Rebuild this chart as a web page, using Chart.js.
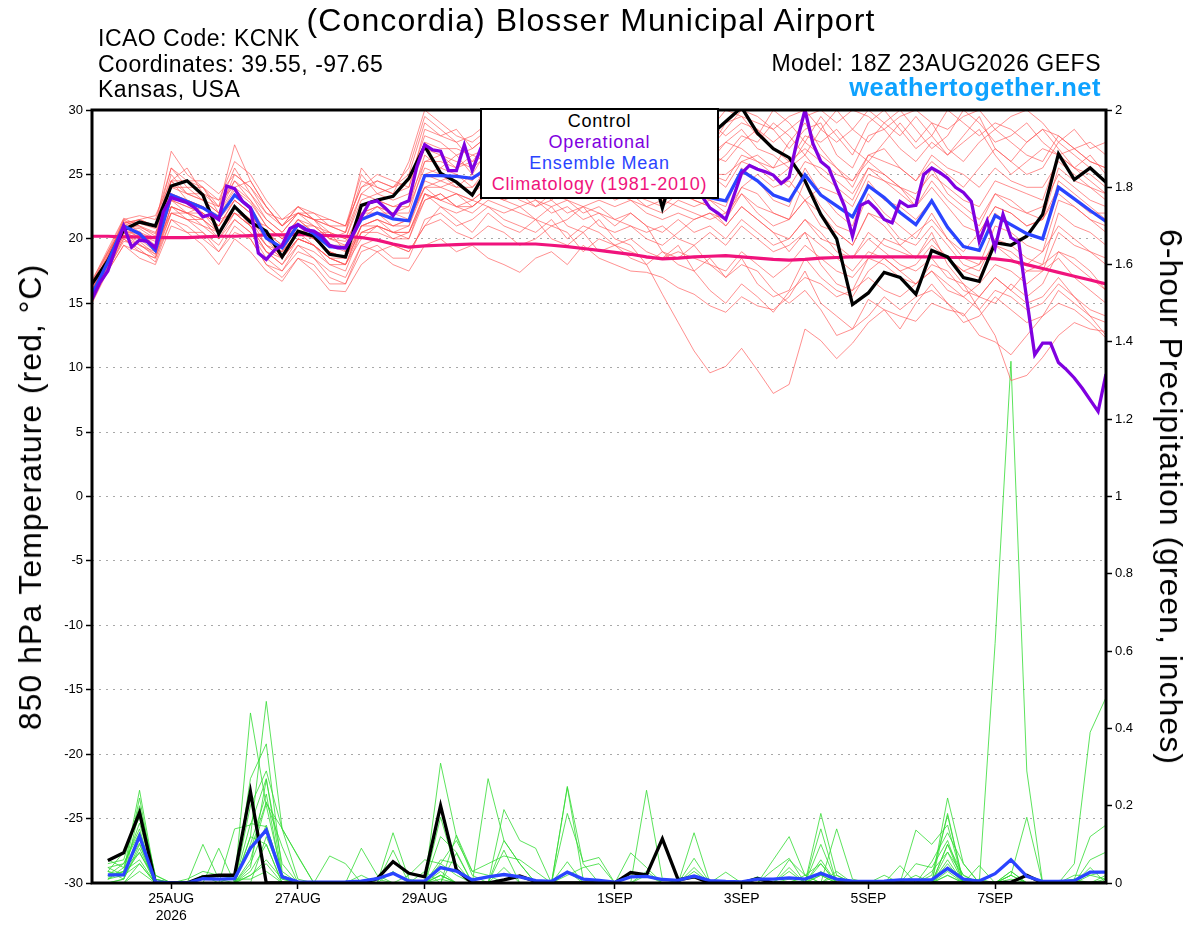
<!DOCTYPE html>
<html>
<head>
<meta charset="utf-8">
<script src="https://cdn.jsdelivr.net/npm/chart.js@4.4.1/dist/chart.umd.min.js"></script>
<style>
html,body{margin:0;padding:0;background:#fff;}
#wrap{position:relative;width:1200px;height:927px;overflow:hidden;font-family:"Liberation Sans",Arial,Helvetica,sans-serif;}
#c{position:absolute;left:0;top:0;}
.t{position:absolute;white-space:nowrap;line-height:1;color:#000;}
#title{left:591px;top:4px;font-size:32px;letter-spacing:1.1px;transform:translateX(-50%);}
#icao{left:98px;top:27px;font-size:23px;letter-spacing:0.5px;}
#coord{left:98px;top:52.5px;font-size:23px;letter-spacing:0.5px;}
#state{left:98px;top:78px;font-size:23px;letter-spacing:0.5px;}
#model{right:99px;top:51.5px;font-size:23px;letter-spacing:0.5px;}
#site{right:99px;top:75px;font-size:25.5px;font-weight:bold;color:#0ea2ff;letter-spacing:0.5px;}
#ylab{left:30px;top:497px;font-size:32px;letter-spacing:1px;transform:translate(-50%,-50%) rotate(-90deg);}
#y2lab{left:1171px;top:497px;font-size:32px;letter-spacing:1px;transform:translate(-50%,-50%) rotate(90deg);}
#legend{position:absolute;left:480px;top:108px;width:239px;height:91px;box-sizing:border-box;border:2px solid #000;background:#fff;text-align:center;font-size:18px;line-height:21.3px;letter-spacing:0.8px;padding-top:0.5px;}
</style>
</head>
<body>
<div id="wrap">
<canvas id="c" width="1200" height="927"></canvas>
<div class="t" id="title">(Concordia) Blosser Municipal Airport</div>
<div class="t" id="icao">ICAO Code: KCNK</div>
<div class="t" id="coord">Coordinates: 39.55, -97.65</div>
<div class="t" id="state">Kansas, USA</div>
<div class="t" id="model">Model: 18Z 23AUG2026 GEFS</div>
<div class="t" id="site">weathertogether.net</div>
<div class="t" id="ylab">850 hPa Temperature (red, °C)</div>
<div class="t" id="y2lab">6-hour Precipitation (green, inches)</div>
<div id="legend">
  <div style="color:#000">Control</div>
  <div style="color:#8000e0">Operational</div>
  <div style="color:#2a44ff">Ensemble Mean</div>
  <div style="color:#f0137c">Climatology (1981-2010)</div>
</div>
</div>
<script>
// ---- tick labels (forecast hour from 18Z 23AUG2026 -> label) ----
const tickHours  = [30, 78, 126, 198, 246, 294, 342];
const tickLabels = [['25AUG','2026'], '27AUG', '29AUG', '1SEP', '3SEP', '5SEP', '7SEP'];

// ---- 850 hPa temperature, 6-hourly (65 values, hour 0..384) ----
const controlTemp = [16.5,18.3,20.7,21.3,21.0,24.1,24.5,23.4,20.4,22.5,
 21.3,20.6,18.6,20.6,20.2,18.8,18.6,22.6,23.0,23.3,
 24.7,27.2,25.1,24.4,23.4,25.5,26.5,27.0,26.0,27.5,
 27.0,26.5,25.5,26.0,25.0,27.0,22.4,26.5,27.0,28.0,
 29.1,30.2,28.2,27.0,26.3,24.5,21.9,20.0,14.9,15.8,
 17.4,17.0,15.7,19.1,18.6,17.0,16.7,19.7,19.5,20.2,
 21.9,26.6,24.6,25.5,24.4];
const meanTemp = [15.7,18.2,21.0,20.4,19.1,23.4,22.9,22.4,21.65,23.4,
 22.4,20.05,19.3,21.1,20.4,19.4,19.3,21.5,22.0,21.55,
 21.4,24.9,24.9,24.85,24.7,25.5,25.3,25.6,25.2,25.4,
 25.0,24.8,25.1,24.6,24.9,24.3,24.0,24.2,23.6,23.2,
 22.95,25.3,24.5,23.4,22.95,24.96,23.4,22.55,21.7,24.1,
 23.2,22.04,21.1,22.95,20.9,19.4,19.1,21.8,21.1,20.4,
 20.0,24.0,23.1,22.2,21.35];
const climTemp = [20.2,20.2,20.15,20.15,20.1,20.1,20.1,20.15,20.2,20.2,
 20.25,20.3,20.3,20.35,20.3,20.25,20.2,20.1,19.9,19.6,
 19.35,19.45,19.5,19.55,19.6,19.6,19.6,19.6,19.6,19.5,
 19.4,19.25,19.1,18.95,18.8,18.6,18.45,18.5,18.6,18.65,
 18.7,18.6,18.5,18.4,18.35,18.4,18.5,18.55,18.6,18.6,
 18.6,18.6,18.6,18.6,18.55,18.55,18.5,18.45,18.3,18.0,
 17.7,17.4,17.1,16.8,16.5];
// ---- operational run, 3-hourly (129 values, hour 0..384) ----
const operationalTemp = [15.3,16.6,17.5,19.3,21.0,19.35,19.9,19.8,19.3,22.1,
 23.2,23.0,22.8,22.4,21.7,21.9,21.5,24.1,23.9,22.9,
 22.4,18.9,18.4,19.1,19.5,20.8,21.1,20.7,20.6,20.2,
 19.5,19.3,19.3,20.4,21.7,22.8,22.95,22.4,21.8,22.7,
 22.95,25.6,27.3,26.9,26.8,25.3,25.3,27.3,25.3,26.9,
 26.0,25.5,26.3,26.8,27.0,26.5,26.0,26.6,27.2,26.9,
 26.4,25.9,26.2,26.6,26.0,25.5,25.8,26.1,25.5,25.0,
 24.6,24.9,25.2,24.8,24.4,24.0,23.8,23.3,22.4,22.0,
 21.5,23.3,25.1,25.7,25.4,25.2,24.95,24.3,24.8,27.6,
 30.0,27.4,26.0,25.5,24.0,22.5,20.2,22.6,22.9,22.3,
 21.5,21.25,22.9,22.5,22.6,25.0,25.5,25.15,24.7,24.0,
 23.6,22.9,19.8,21.4,19.3,21.9,20.1,19.7,15.3,11.0,
 11.9,11.9,10.4,9.85,9.2,8.4,7.5,6.6,9.5];

// ---- ensemble members, temperature (6-hourly) ----
const t01 = [15.5,18.5,21.2,21.5,21.0,26.8,25.0,24.0,22.5,27.3,24.5,22.5,21.0,22.5,21.5,21.0,20.5,25.5,24.0,23.5,26.0,30.0,29.0,28.0,27.5,28.5,29.0,28.0,29.5,28.0,27.0,28.5,29.0,27.5,28.0,27.0,26.5,28.0,29.0,28.5,30.0,29.5,28.0,30.0,29.0,27.5,29.5,28.0,26.5,29.0,30.0,28.5,27.0,28.0,26.5,28.0,29.5,27.0,26.0,27.5,28.5,27.0,25.5,26.5,25.0];
const t02 = [16.0,18.0,20.5,19.5,19.0,22.5,22.0,21.5,20.5,22.0,21.0,19.0,18.0,20.0,19.5,18.5,18.0,20.5,21.0,20.5,20.0,23.0,23.5,22.5,22.0,23.0,22.5,22.0,21.5,22.5,21.0,20.5,21.5,20.0,19.5,18.0,15.7,13.5,11.3,9.6,10.1,11.5,9.8,8.0,8.7,13.0,12.1,10.7,11.9,13.5,14.5,13.0,15.0,16.5,15.0,14.0,15.5,17.0,16.0,17.5,18.0,19.0,18.5,17.5,16.0];
const t03 = [15.0,17.5,19.5,18.5,18.0,21.0,20.5,19.5,18.0,20.0,19.0,17.5,16.7,18.5,17.5,16.0,15.9,18.0,19.0,18.0,17.5,19.5,20.0,19.0,19.5,18.5,18.0,17.4,18.5,19.0,18.0,19.5,18.5,18.0,17.5,17.4,17.0,16.2,15.7,14.8,14.3,15.5,14.8,14.5,15.5,17.5,15.0,14.0,13.0,15.3,14.5,14.0,13.6,15.0,14.5,14.2,12.5,12.0,11.0,12.5,14.0,15.0,14.5,13.5,12.3];
const t04 = [16.2,18.8,21.0,20.0,19.5,23.5,23.0,22.0,21.0,23.0,22.0,20.0,19.0,21.0,20.0,19.0,18.5,21.5,22.0,21.0,21.5,24.0,24.0,23.5,23.0,24.0,23.5,24.5,23.0,22.5,23.0,22.0,22.5,21.5,22.0,21.0,20.5,21.5,20.5,21.0,20.0,21.5,20.5,19.5,20.0,21.5,20.0,19.5,18.5,20.0,19.0,18.0,17.5,18.5,17.0,16.5,14.5,12.5,9.0,9.4,10.8,12.5,13.5,13.0,12.8];
const t05 = [15.8,17.8,20.0,19.0,18.5,22.0,21.5,20.5,19.5,21.5,20.5,18.5,17.5,19.5,18.5,17.5,17.0,19.5,20.0,19.5,19.0,21.0,21.5,20.5,20.0,21.0,20.5,19.5,20.0,21.0,20.5,19.0,20.0,19.5,19.0,18.5,18.5,19.5,17.5,16.0,15.0,16.5,15.5,14.3,15.9,17.0,16.5,15.5,16.0,17.0,16.0,15.5,16.5,17.5,16.0,15.5,16.5,18.0,17.5,16.5,17.5,18.5,17.0,16.0,15.0];
const t06 = [16.5,19.0,21.5,21.8,21.5,25.5,24.5,24.5,23.5,25.0,24.0,22.0,21.5,22.5,22.0,21.5,21.0,24.0,24.5,24.0,24.5,28.0,27.5,26.5,27.0,28.0,27.0,28.5,27.5,27.0,28.0,27.0,27.5,26.5,27.0,26.0,25.5,26.5,27.0,26.0,27.5,28.5,27.0,26.5,25.5,27.5,26.5,25.5,24.0,26.5,27.0,25.5,24.5,26.0,25.0,24.0,25.5,27.0,26.0,25.0,25.5,27.5,26.5,25.5,24.5];
const t07 = [15.3,17.8,20.3,19.8,18.8,22.0,21.5,21.0,20.0,21.5,20.5,19.0,18.0,19.5,19.0,18.0,17.5,20.5,20.5,20.0,20.5,23.0,23.5,22.5,23.0,22.5,22.0,22.5,21.5,21.0,21.5,22.5,21.0,20.5,21.0,20.0,19.5,20.5,21.5,22.0,21.5,23.5,22.5,22.0,21.5,23.0,21.0,20.5,19.5,22.0,21.5,20.0,19.5,21.0,19.5,18.0,17.5,20.0,19.5,18.5,18.0,22.0,21.0,20.5,19.5];
const t08 = [16.0,18.5,21.0,20.5,20.0,24.5,23.5,23.0,22.0,24.0,23.0,21.0,20.0,21.5,21.0,20.0,19.5,22.5,23.0,22.5,23.0,26.0,26.5,25.5,26.0,27.5,26.0,27.0,26.5,27.5,26.0,26.5,27.0,25.5,26.5,25.0,24.0,25.5,26.0,25.5,26.5,28.0,27.5,29.0,28.0,26.5,28.5,30.0,28.5,27.5,29.0,30.0,28.5,27.0,28.0,30.0,29.0,27.5,28.0,29.0,27.5,26.5,27.0,26.0,25.5];
const t09 = [15.6,18.0,20.5,20.0,19.0,23.0,22.5,22.0,21.0,22.5,21.5,19.5,19.0,20.5,20.0,19.0,18.5,21.0,21.5,21.0,21.0,24.5,24.0,24.5,23.5,24.5,25.0,24.0,24.5,25.5,24.0,23.5,24.5,24.0,23.5,23.0,22.5,23.5,23.0,22.5,21.5,24.0,23.5,22.0,21.5,24.5,22.5,21.0,20.5,23.5,22.0,21.0,20.0,22.0,20.0,18.5,18.0,21.0,20.5,19.5,19.0,23.0,22.5,21.5,21.0];
const t10 = [16.8,19.0,21.0,21.5,21.8,24.5,25.5,23.5,23.0,26.0,25.0,23.0,21.5,22.0,22.0,21.0,21.0,25.0,23.5,24.0,25.5,29.5,28.5,27.5,28.0,29.0,28.0,29.5,28.5,29.0,28.5,29.5,28.0,29.0,28.5,27.5,28.0,29.0,28.0,27.0,28.5,30.0,29.5,28.5,29.5,30.0,28.5,27.5,28.5,30.0,29.0,28.0,29.5,28.0,30.0,29.0,28.0,29.0,28.5,27.5,28.5,28.0,27.0,27.5,26.5];
const t11 = [15.9,18.3,20.8,20.5,19.5,23.5,23.0,22.5,21.5,23.5,22.5,20.5,19.5,21.0,20.5,19.5,19.5,21.5,22.5,21.5,21.5,25.0,25.5,25.0,24.5,26.0,25.5,26.0,25.0,25.5,25.5,25.0,25.5,25.0,25.0,24.5,24.0,24.0,23.5,23.0,22.5,25.5,24.5,23.0,22.5,25.5,23.5,22.0,21.0,24.5,23.0,22.5,21.5,23.0,21.0,19.5,19.0,22.0,21.0,20.5,20.0,24.5,23.5,22.5,21.5];
const t12 = [15.4,17.5,19.5,19.0,18.5,21.5,21.0,20.0,19.0,21.0,20.0,18.0,17.5,19.0,18.5,17.0,16.5,19.0,19.5,18.5,18.5,21.5,22.0,21.0,21.5,22.5,21.5,21.0,20.5,21.5,20.0,21.0,20.5,19.5,20.0,19.0,18.5,19.0,18.5,18.0,17.5,19.0,18.0,17.0,18.0,19.5,18.5,17.5,17.0,18.5,18.0,17.0,16.5,17.5,16.5,15.5,14.5,16.0,15.5,14.5,15.0,16.5,15.5,14.5,14.0];
const t13 = [15.2,18.5,21.5,20.5,19.0,24.0,23.5,23.0,22.0,24.5,23.0,21.5,20.5,22.0,21.5,20.5,20.0,23.0,23.5,23.0,23.5,27.0,26.5,26.0,25.5,26.5,27.5,26.5,27.0,26.0,26.5,27.0,26.0,26.5,25.5,26.0,25.0,26.0,25.5,26.5,27.5,27.0,26.0,25.5,27.5,29.0,27.0,25.5,24.5,26.0,25.0,24.0,23.0,25.5,23.5,22.5,21.5,23.5,23.0,22.0,21.5,25.5,24.5,24.0,23.0];
const t14 = [16.3,18.7,21.3,21.0,20.5,22.5,22.0,22.5,21.5,22.0,21.5,21.0,20.0,21.5,20.5,20.5,19.0,22.0,22.5,22.0,22.5,25.5,25.0,24.0,25.0,24.5,24.0,25.0,24.5,24.0,25.0,24.0,24.5,23.5,24.0,23.5,23.0,22.5,22.0,21.5,22.0,24.0,25.0,24.0,24.5,23.0,24.0,23.5,22.5,25.0,24.5,23.5,22.5,24.0,22.5,21.0,20.5,22.5,22.0,21.0,21.5,24.0,23.0,22.0,22.0];
const t15 = [15.7,18.0,20.5,20.0,19.5,22.0,22.0,21.5,20.5,22.5,21.0,19.5,18.5,20.5,19.5,18.5,18.5,20.5,21.0,20.5,20.5,23.5,23.0,23.5,22.5,23.5,23.0,23.5,22.5,23.0,22.0,22.5,22.0,21.0,22.0,21.0,19.0,18.5,19.5,18.0,17.0,18.5,16.5,15.5,16.0,18.5,17.0,16.0,15.5,17.5,18.5,17.5,18.0,19.5,18.5,17.5,18.0,19.5,19.0,18.0,19.0,21.0,20.0,19.0,18.0];
const t16 = [16.1,18.4,20.9,20.8,20.0,24.0,24.0,23.0,22.5,24.5,23.5,21.5,20.5,22.0,21.0,20.5,20.0,23.5,23.0,22.5,22.5,26.5,25.5,26.5,25.0,27.0,26.5,27.0,28.0,27.0,27.5,26.0,27.0,27.5,26.5,26.0,27.0,26.5,25.5,26.5,26.0,27.5,28.5,27.0,26.0,28.0,27.5,28.5,27.0,26.0,27.5,29.0,27.5,29.0,27.0,26.0,27.5,28.5,27.5,26.5,26.0,28.0,27.0,26.0,25.5];
const t17 = [15.5,17.9,20.2,19.5,18.8,22.5,21.5,21.5,20.0,22.0,21.0,19.0,18.5,20.0,19.5,18.0,18.0,20.0,21.0,20.0,20.0,23.5,22.5,22.0,22.5,23.5,24.0,23.0,22.5,23.5,23.0,22.5,23.0,22.5,23.0,22.0,21.5,22.0,21.5,22.0,21.0,22.5,21.5,20.5,20.0,21.5,20.5,19.0,18.5,20.5,19.5,19.0,18.5,20.0,18.5,17.5,17.0,19.5,18.5,17.5,17.5,20.5,19.5,19.0,18.5];
const t18 = [16.4,18.6,21.4,21.2,20.8,25.0,23.5,23.5,22.5,25.5,23.5,22.0,21.0,22.5,21.5,21.0,20.5,24.5,24.0,23.5,24.0,27.5,27.0,27.0,26.5,27.0,28.0,27.5,26.5,28.0,27.5,28.0,26.5,27.0,27.5,26.5,26.0,27.5,28.0,27.0,29.0,29.5,29.0,28.5,27.0,28.5,29.0,26.5,25.5,28.0,28.5,27.0,26.0,27.5,26.5,27.5,28.5,26.5,25.0,26.0,27.0,26.5,25.5,25.0,24.0];
const t19 = [15.9,18.1,20.6,20.2,19.2,23.0,22.5,22.0,21.0,23.0,22.0,20.0,19.0,20.5,20.0,19.0,18.5,21.0,21.5,21.0,21.5,24.0,24.5,24.0,24.0,25.0,24.5,25.0,24.0,24.5,24.0,23.5,24.0,23.0,23.5,22.5,22.0,23.0,22.5,23.0,22.0,23.5,22.0,21.0,21.5,23.0,22.0,20.5,19.5,22.0,21.0,19.5,18.5,20.5,18.0,16.5,15.5,15.0,16.5,15.5,16.5,19.0,18.0,17.0,16.0];
const t20 = [16.6,18.9,21.2,21.5,21.0,25.5,24.0,24.0,23.0,24.0,24.5,22.5,21.0,22.0,21.5,21.5,21.0,24.0,25.0,24.5,24.0,28.5,28.0,27.5,26.0,26.5,27.0,26.0,27.5,26.5,26.0,26.5,27.5,26.0,26.5,25.5,25.0,25.0,24.5,25.0,24.5,26.5,26.0,25.0,24.0,26.0,25.5,24.5,23.5,25.5,25.0,24.0,23.5,25.0,24.0,23.0,22.5,24.5,24.0,23.5,23.0,26.5,25.5,24.5,23.5];
const t21 = [15.1,17.6,20.0,19.2,18.2,21.5,20.5,20.5,19.0,20.5,20.0,18.0,17.0,18.5,18.0,16.5,16.5,19.5,19.0,19.5,19.0,21.0,22.5,21.5,20.5,22.0,21.0,20.5,21.5,20.0,19.5,20.5,19.0,19.5,18.5,18.0,19.0,18.0,17.5,18.5,17.0,18.0,17.5,16.0,15.0,16.0,14.5,12.5,13.0,14.0,15.5,14.5,15.5,16.0,15.0,13.5,14.0,15.5,14.5,13.5,14.0,16.0,15.0,14.0,13.5];
const t22 = [16.7,19.2,21.6,21.0,20.2,24.5,24.5,24.0,22.0,25.0,24.0,22.5,21.0,22.0,21.5,20.0,20.5,23.5,24.5,24.0,25.0,29.0,28.0,28.5,27.0,28.0,28.5,29.0,28.0,29.0,28.5,28.0,28.5,28.0,29.0,28.0,27.5,28.5,29.5,29.0,28.0,29.0,28.5,27.5,28.5,29.5,30.0,29.0,30.0,29.5,28.5,29.5,30.0,29.0,28.5,29.5,30.0,28.5,29.5,30.0,29.0,27.5,28.5,27.0,27.5];
const t23 = [15.6,18.2,20.7,20.3,19.8,23.0,23.0,22.5,21.5,23.0,22.0,20.5,19.5,21.5,20.5,19.5,19.0,22.0,22.0,22.0,21.5,25.0,24.5,25.0,24.0,25.5,25.0,24.5,25.5,24.5,25.0,24.5,24.0,24.5,24.0,23.5,23.5,24.0,23.0,22.5,21.0,22.5,21.5,20.5,19.0,20.5,18.0,16.5,16.0,18.5,20.0,19.5,20.5,21.5,20.0,19.0,20.5,22.5,22.0,21.0,21.5,23.5,22.5,21.5,20.5];
const t24 = [16.0,18.6,21.1,20.9,20.4,24.5,23.0,22.5,21.8,23.8,22.8,21.0,20.0,21.0,21.0,20.0,19.8,22.0,22.5,22.0,22.0,26.0,26.0,25.5,26.5,26.0,26.5,27.0,26.0,26.5,26.0,26.5,26.0,25.5,26.0,25.5,25.0,25.5,24.5,25.0,24.0,26.0,25.5,24.5,25.5,26.5,25.0,24.0,23.0,25.5,24.5,24.0,22.5,24.5,23.0,22.0,21.0,23.5,22.5,22.0,22.5,25.0,24.0,23.0,22.5];
const t25 = [15.4,17.7,19.8,19.6,18.6,22.5,22.0,21.0,20.5,22.0,21.0,19.5,18.5,20.0,19.5,18.5,18.0,21.0,21.0,20.5,21.0,24.0,23.0,23.5,23.0,24.0,23.5,24.5,24.0,23.0,24.0,23.5,24.0,23.5,23.0,22.5,23.0,24.0,24.5,25.0,25.0,26.0,26.5,25.5,26.0,27.0,26.0,25.0,24.5,26.5,26.0,25.5,24.5,26.5,25.5,25.0,24.0,25.5,24.5,24.0,24.0,26.0,25.0,24.0,23.5];
const t26 = [16.1,18.2,20.4,20.6,19.3,23.0,22.0,22.0,20.5,22.5,21.5,20.0,18.5,20.0,19.5,18.5,18.0,21.0,21.5,20.5,20.5,23.5,23.0,22.5,22.5,23.5,23.0,22.5,23.0,22.0,22.5,21.5,22.0,21.5,21.0,20.5,21.0,20.0,19.5,20.5,19.5,21.0,20.0,19.0,19.5,20.5,19.5,18.5,17.5,19.0,18.5,17.5,16.5,18.0,17.5,16.0,15.5,17.0,16.0,15.0,15.5,17.0,15.5,14.0,12.5];

// ---- 6-hour precipitation (inches), 6-hourly, first slot empty ----
const controlPrcp = [null,0.058,0.078,0.182,0,0,0,0.016,0.02,0.02,
 0.236,0,0,0,0,0,0,0,0.011,0.055,
 0.025,0.016,0.20,0.034,0,0,0.008,0.018,0.004,0,
 0,0,0,0,0.027,0.021,0.114,0.008,0.016,0,
 0,0,0.012,0,0,0,0,0,0,0,
 0,0,0,0,0,0,0,0,0.002,0.02,
 0,0,0,0,0];
const meanPrcp = [null,0.021,0.021,0.121,0.003,0,0,0.011,0.01,0.011,
 0.09,0.137,0.016,0.003,0.002,0.002,0.003,0.005,0.011,0.025,
 0.005,0.005,0.04,0.031,0.008,0.016,0.022,0.016,0.006,0.004,
 0.028,0.01,0.007,0.002,0.016,0.017,0.009,0.007,0.018,0.006,
 0.004,0.003,0.01,0.01,0.013,0.01,0.025,0.01,0.005,0.004,
 0.005,0.008,0.008,0.008,0.038,0.01,0.005,0.024,0.06,0.017,
 0.004,0.004,0.006,0.028,0.028];
const p01 = [null,0.02,0.03,0.24,0.01,0,0,0,0,0, 0.44,0.20,0.02,0,0,0,0,0,0,0, 0,0,0.05,0.02,0,0,0,0,0,0, 0,0,0,0,0,0,0,0,0,0, 0,0,0,0,0.01,0,0.02,0,0,0, 0,0,0,0,0.02,0,0,0.62,1.35,0.29, 0,0,0,0,0];
const p02 = [null,0.01,0.02,0.22,0,0,0,0,0,0, 0.12,0.47,0.14,0.01,0,0,0,0,0,0, 0,0,0.12,0.08,0,0,0,0,0,0, 0.25,0.05,0,0,0,0,0,0,0,0, 0,0,0,0,0,0,0.05,0,0,0, 0,0,0,0,0.10,0.02,0,0,0.03,0, 0,0,0.05,0.39,0.48];
const p03 = [null,0.05,0.06,0.20,0.02,0,0,0.10,0.01,0, 0.27,0.36,0.03,0,0,0,0,0.09,0.02,0, 0,0,0.31,0.12,0.02,0,0,0,0,0, 0,0,0,0,0,0.24,0.01,0,0,0, 0,0,0,0,0,0,0.18,0.02,0,0, 0,0,0,0,0.22,0.05,0,0,0.01,0, 0,0,0,0.02,0.01];
const p04 = [null,0.03,0.08,0.17,0,0,0,0,0.09,0, 0.20,0.29,0.14,0.07,0,0,0,0,0,0.13, 0.01,0,0.17,0.03,0,0.27,0.11,0.05,0,0, 0,0,0,0,0,0,0,0,0.13,0, 0,0,0,0.06,0.12,0.02,0,0.14,0.01,0, 0,0.045,0,0,0.18,0,0,0,0.02,0.17, 0,0,0.01,0.12,0.15];
const p05 = [null,0.06,0.04,0.155,0.01,0,0,0.02,0,0.14, 0.15,0.27,0.02,0,0,0.07,0.05,0,0,0.085, 0,0,0.02,0,0,0,0.19,0.11,0.09,0, 0.18,0.055,0.066,0,0,0,0,0,0.064,0, 0.028,0,0,0.034,0.064,0,0.14,0,0,0, 0,0,0.137,0.10,0.15,0,0.045,0,0,0, 0,0,0,0.04,0];
const p06 = [null,0.02,0.05,0.13,0,0,0,0,0,0.02, 0.085,0.21,0.094,0,0,0,0,0,0,0, 0,0.03,0,0.077,0,0,0.085,0,0,0, 0.055,0,0,0,0.078,0.04,0,0,0,0, 0,0,0.016,0,0,0,0.10,0,0,0, 0.02,0,0,0.055,0.13,0.05,0,0,0.03,0, 0,0,0,0,0.02];
const p07 = [null,0,0.01,0.10,0,0,0,0,0,0, 0.05,0.15,0.02,0,0,0,0,0,0,0, 0,0,0.03,0,0,0,0,0,0,0, 0,0,0,0,0,0,0,0,0,0, 0,0,0,0,0,0.02,0.05,0,0,0, 0,0,0,0,0.08,0,0,0,0.02,0, 0,0,0,0,0];
const p08 = [null,0.04,0.02,0.08,0,0,0,0,0,0, 0.03,0.10,0,0,0,0,0,0,0,0, 0,0,0,0,0,0,0,0,0,0, 0,0,0,0,0,0,0,0,0,0, 0,0,0,0,0,0,0,0,0,0, 0,0,0,0,0.10,0,0,0,0,0, 0,0,0,0,0];
const p09 = [null,0.01,0.03,0.06,0,0,0,0,0,0, 0.02,0.05,0,0,0,0,0,0,0,0, 0,0,0.01,0,0,0,0,0,0,0, 0,0,0,0,0,0,0,0,0,0, 0,0,0,0,0,0,0,0,0,0, 0,0,0,0,0.05,0,0,0,0,0, 0,0,0,0,0];
const p10 = [null,0.03,0.01,0.19,0.02,0,0,0,0,0, 0.12,0.10,0,0,0,0,0,0.02,0,0.03, 0,0,0,0.124,0.03,0.02,0,0,0,0, 0.247,0.01,0,0,0,0,0,0,0,0, 0,0,0,0,0,0,0,0,0,0, 0,0,0,0.02,0.175,0,0.01,0,0,0, 0,0,0.01,0,0];
const p11 = [null,0.02,0.02,0.128,0,0,0,0,0,0, 0.154,0.146,0.02,0,0,0,0,0,0,0, 0,0,0,0,0,0,0.11,0.05,0,0, 0,0,0,0,0,0,0,0,0,0, 0,0,0,0,0.06,0.02,0,0,0,0, 0,0,0,0,0,0,0,0,0,0, 0,0,0,0,0.01];
const p12 = [null,0,0,0.05,0,0,0,0,0,0, 0.02,0.06,0.01,0,0,0,0,0,0.01,0, 0,0,0,0,0,0,0,0,0,0, 0,0,0,0,0,0,0,0,0,0, 0,0,0,0,0,0,0,0,0,0, 0,0,0.02,0,0.03,0,0,0,0,0, 0,0,0,0,0];
const p13 = [null,0.015,0.03,0.103,0,0,0,0,0,0, 0.06,0.206,0.141,0.068,0,0,0,0,0,0, 0,0,0,0,0,0,0,0,0,0, 0,0,0,0,0,0,0,0,0,0, 0,0,0,0,0,0,0.03,0,0,0, 0,0,0,0,0.06,0,0,0,0,0, 0,0,0,0,0];
const p14 = [null,0.01,0.04,0.077,0.01,0,0,0,0,0, 0.04,0.267,0.05,0,0,0,0,0,0,0, 0,0,0.02,0,0,0,0,0,0,0, 0,0,0,0,0,0,0,0,0,0, 0,0,0,0,0,0,0,0.03,0,0, 0,0,0,0,0,0,0,0,0,0, 0,0,0,0,0];
const p15 = [null,0,0,0.03,0,0,0,0,0,0, 0,0,0,0,0,0,0,0,0,0, 0.02,0.06,0.05,0.11,0.03,0.05,0.07,0.06,0.03,0, 0.02,0.04,0.05,0,0,0.02,0,0,0.04,0, 0,0,0,0,0.03,0,0,0,0,0, 0,0,0,0.03,0.08,0.02,0,0,0,0, 0,0,0,0,0];
const p16 = [null,0.03,0.02,0.05,0,0,0.01,0.03,0.02,0.01, 0.01,0.03,0,0,0,0,0,0,0,0, 0,0,0.02,0,0,0,0,0,0,0, 0,0,0,0,0,0,0,0,0,0, 0,0,0,0,0,0,0.02,0,0,0, 0,0,0,0,0.02,0,0,0,0,0, 0,0,0.02,0.02,0.03];
const p17 = [null,0,0.01,0.09,0,0,0,0,0,0, 0.10,0.23,0.01,0,0,0,0,0,0,0, 0,0,0,0,0,0,0.04,0,0,0, 0.03,0,0,0,0,0.03,0,0,0,0, 0,0,0,0,0.04,0,0.06,0,0,0, 0,0,0,0,0.04,0,0,0,0.02,0, 0,0,0,0.06,0.08];
const p18 = [null,0.04,0.05,0.14,0,0,0,0,0,0, 0,0.12,0.02,0,0,0,0,0,0,0, 0,0,0.06,0.05,0,0,0,0,0,0, 0,0,0,0,0,0,0,0,0.03,0, 0,0,0,0,0,0,0,0.02,0,0, 0,0,0.05,0.04,0.11,0,0,0,0,0, 0,0,0,0,0];

const tempMembers = [t01,t02,t03,t04,t05,t06,t07,t08,t09,t10,t11,t12,t13,t14,t15,t16,t17,t18,t19,t20,t21,t22,t23,t24,t25,t26];
const prcpMembers = [p01,p02,p03,p04,p05,p06,p07,p08,p09,p10,p11,p12,p13,p14,p15,p16,p17,p18];

// ---- build datasets ----
const hrs6 = controlTemp.map((_, k) => k * 6);
const hrs3 = operationalTemp.map((_, k) => k * 3);
const pts = (arr, hrs) => arr.map((v, k) => ({x: hrs[k], y: v}));

const datasets = [];
const base = {pointRadius: 0, pointHoverRadius: 0, tension: 0, fill: false, spanGaps: false, clip: 0};
// order: lower value drawn on top
datasets.push(Object.assign({}, base, {label:'Operational', data: pts(operationalTemp, hrs3), borderColor:'#8000e0', borderWidth:3.3, yAxisID:'y', order:1}));
datasets.push(Object.assign({}, base, {label:'Ensemble Mean', data: pts(meanTemp, hrs6), borderColor:'#2a44ff', borderWidth:3.3, yAxisID:'y', order:2}));
datasets.push(Object.assign({}, base, {label:'Control', data: pts(controlTemp, hrs6), borderColor:'#000000', borderWidth:3.3, yAxisID:'y', order:3}));
datasets.push(Object.assign({}, base, {label:'Climatology', data: pts(climTemp, hrs6), borderColor:'#f0137c', borderWidth:3.2, yAxisID:'y', order:4}));
datasets.push(Object.assign({}, base, {label:'Mean precip', data: pts(meanPrcp, hrs6), borderColor:'#2a44ff', borderWidth:3.3, yAxisID:'y2', order:2}));
datasets.push(Object.assign({}, base, {label:'Control precip', data: pts(controlPrcp, hrs6), borderColor:'#000000', borderWidth:3.3, yAxisID:'y2', order:3}));
tempMembers.forEach((m, k) => datasets.push(Object.assign({}, base, {label:'T member ' + (k+1), data: pts(m, hrs6), borderColor:'rgba(255,80,80,0.8)', borderWidth:0.8, yAxisID:'y', order:10})));
prcpMembers.forEach((m, k) => datasets.push(Object.assign({}, base, {label:'P member ' + (k+1), data: pts(m, hrs6), borderColor:'rgb(50,220,50)', borderWidth:0.8, yAxisID:'y2', order:10})));

const framePlugin = {
  id: 'frame',
  afterDatasetsDraw(chart) {
    const {ctx, chartArea: a} = chart;
    ctx.save();
    ctx.strokeStyle = '#000';
    ctx.lineWidth = 3;
    ctx.strokeRect(a.left, a.top, a.right - a.left, a.bottom - a.top);
    ctx.restore();
  }
};

Chart.defaults.font.family = '"Liberation Sans", Arial, Helvetica, sans-serif';
Chart.defaults.color = '#000';

new Chart(document.getElementById('c'), {
  type: 'line',
  data: {datasets},
  options: {
    responsive: false,
    animation: false,
    devicePixelRatio: 1,
    events: [],
    layout: {padding: {top: 110, left: 0, right: 0, bottom: 0}},
    plugins: {legend: {display: false}, tooltip: {enabled: false}, title: {display: false}},
    scales: {
      x: {
        type: 'linear', min: 0, max: 384, position: 'bottom',
        afterBuildTicks: (s) => { s.ticks = tickHours.map(v => ({value: v})); },
        afterFit: (s) => { s.height = 44; },
        ticks: {
          autoSkip: false, maxRotation: 0, minRotation: 0, padding: 2,
          font: {size: 14}, color: '#000',
          callback: (v) => { const k = tickHours.indexOf(v); return k >= 0 ? tickLabels[k] : ''; }
        },
        grid: {display: true, drawOnChartArea: false, drawTicks: true, tickLength: 6, tickColor: '#000', tickWidth: 1.5},
        border: {display: false}
      },
      y: {
        type: 'linear', min: -30, max: 30, position: 'left',
        afterFit: (s) => { s.width = 92; },
        ticks: {stepSize: 5, font: {size: 13}, color: '#000', padding: 3},
        grid: {display: true, drawOnChartArea: true, color: '#a8a8a8', lineWidth: 1, drawTicks: true, tickLength: 6, tickColor: '#000', tickWidth: 1.5},
        border: {display: false, dash: [2, 5]}
      },
      y2: {
        type: 'linear', min: 0, max: 2, position: 'right',
        afterFit: (s) => { s.width = 94; },
        ticks: {stepSize: 0.2, font: {size: 13}, color: '#000', padding: 3,
          callback: (v) => String(Math.round(v * 10) / 10)},
        grid: {display: true, drawOnChartArea: false, drawTicks: true, tickLength: 6, tickColor: '#000', tickWidth: 1.5},
        border: {display: false}
      }
    }
  },
  plugins: [framePlugin]
});
</script>
</body>
</html>
